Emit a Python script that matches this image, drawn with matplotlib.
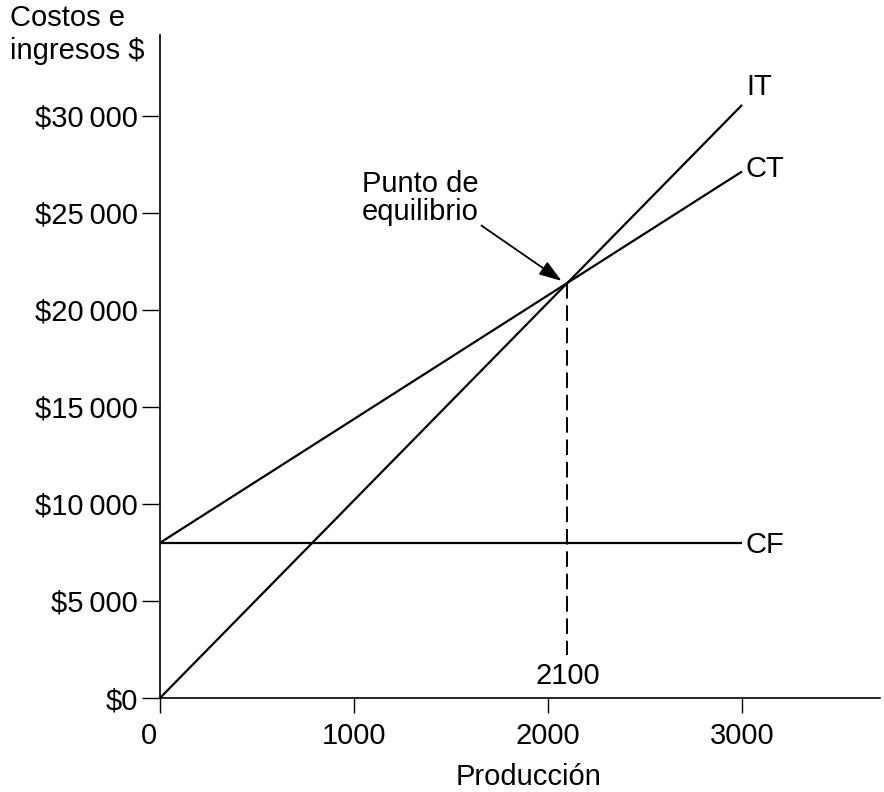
import matplotlib
matplotlib.use("Agg")
import matplotlib.pyplot as plt

plt.rcParams['font.family'] = ['Liberation Sans', 'DejaVu Sans']

# Data
production = [0, 3000]
ingreso_total = [0, 30570]      # IT
costo_total = [8000, 27140]     # CT
costo_fijo = [8000, 8000]       # CF
break_even_x = 2100
break_even_y = 21400
y_ticks = [0, 5000, 10000, 15000, 20000, 25000, 30000]
y_tick_labels = ['$0', '$5\u2009000', '$10\u2009000', '$15\u2009000',
                 '$20\u2009000', '$25\u2009000', '$30\u2009000']
x_ticks = [0, 1000, 2000, 3000]
x_tick_labels = ['', '1000', '2000', '3000']

FS = 21

fig = plt.figure(figsize=(8.84, 7.92), dpi=100)
ax = fig.add_axes([160/884, 1-698/792, 720/884, 663/792])
ax.set_xlim(0, 3711)
ax.set_ylim(0, 34175)

lw = 1.6
ax.plot(production, ingreso_total, color='black', lw=lw, solid_capstyle='butt')
ax.plot(production, costo_total, color='black', lw=lw, solid_capstyle='butt')
ax.plot(production, costo_fijo, color='black', lw=lw, solid_capstyle='butt')

# dashed vertical line at break-even
ax.plot([break_even_x, break_even_x], [break_even_y, 2200], color='black',
        lw=1.4, dashes=(8, 3.5))

ax.spines['top'].set_visible(False)
ax.spines['right'].set_visible(False)
ax.spines['left'].set_linewidth(1.2)
ax.spines['bottom'].set_linewidth(1.2)

ax.set_yticks(y_ticks)
ax.set_yticklabels(y_tick_labels, fontsize=FS)
ax.set_xticks(x_ticks)
ax.set_xticklabels(x_tick_labels, fontsize=FS)
ax.tick_params(axis='y', direction='out', length=13, width=1.0, pad=3)
ax.tick_params(axis='x', direction='out', length=11, width=1.0, pad=6)

# "0" label shifted left
ax.text(-55, -1250, '0', fontsize=FS, ha='center', va='top')

# line labels
ax.text(3020, 31500, 'IT', fontsize=FS, ha='left', va='center')
ax.text(3020, 27250, 'CT', fontsize=FS, ha='left', va='center')
ax.text(3020, 7900, 'CF', fontsize=FS, ha='left', va='center')

# 2100 label
ax.text(break_even_x, 1150, '2100', fontsize=FS, ha='center', va='center')

# axis titles
ax.text(1900, -4050, 'Producción', fontsize=FS, ha='center', va='center')
fig.text(10/884, 1-18/792, 'Costos e', fontsize=FS, ha='left', va='center')
fig.text(10/884, 1-51/792, 'ingresos $', fontsize=FS, ha='left', va='center')

# annotation
ax.annotate('Punto de\nequilibrio', xy=(break_even_x - 30, break_even_y + 100),
            xytext=(1040, 25750), fontsize=FS, ha='left', va='center',
            linespacing=1.0,
            arrowprops=dict(arrowstyle='-|>,head_length=0.65,head_width=0.22',
                            color='black', lw=1.3, shrinkA=0, shrinkB=0,
                            relpos=(1.0, 0.05)))

fig.savefig('out.png', dpi=100)
